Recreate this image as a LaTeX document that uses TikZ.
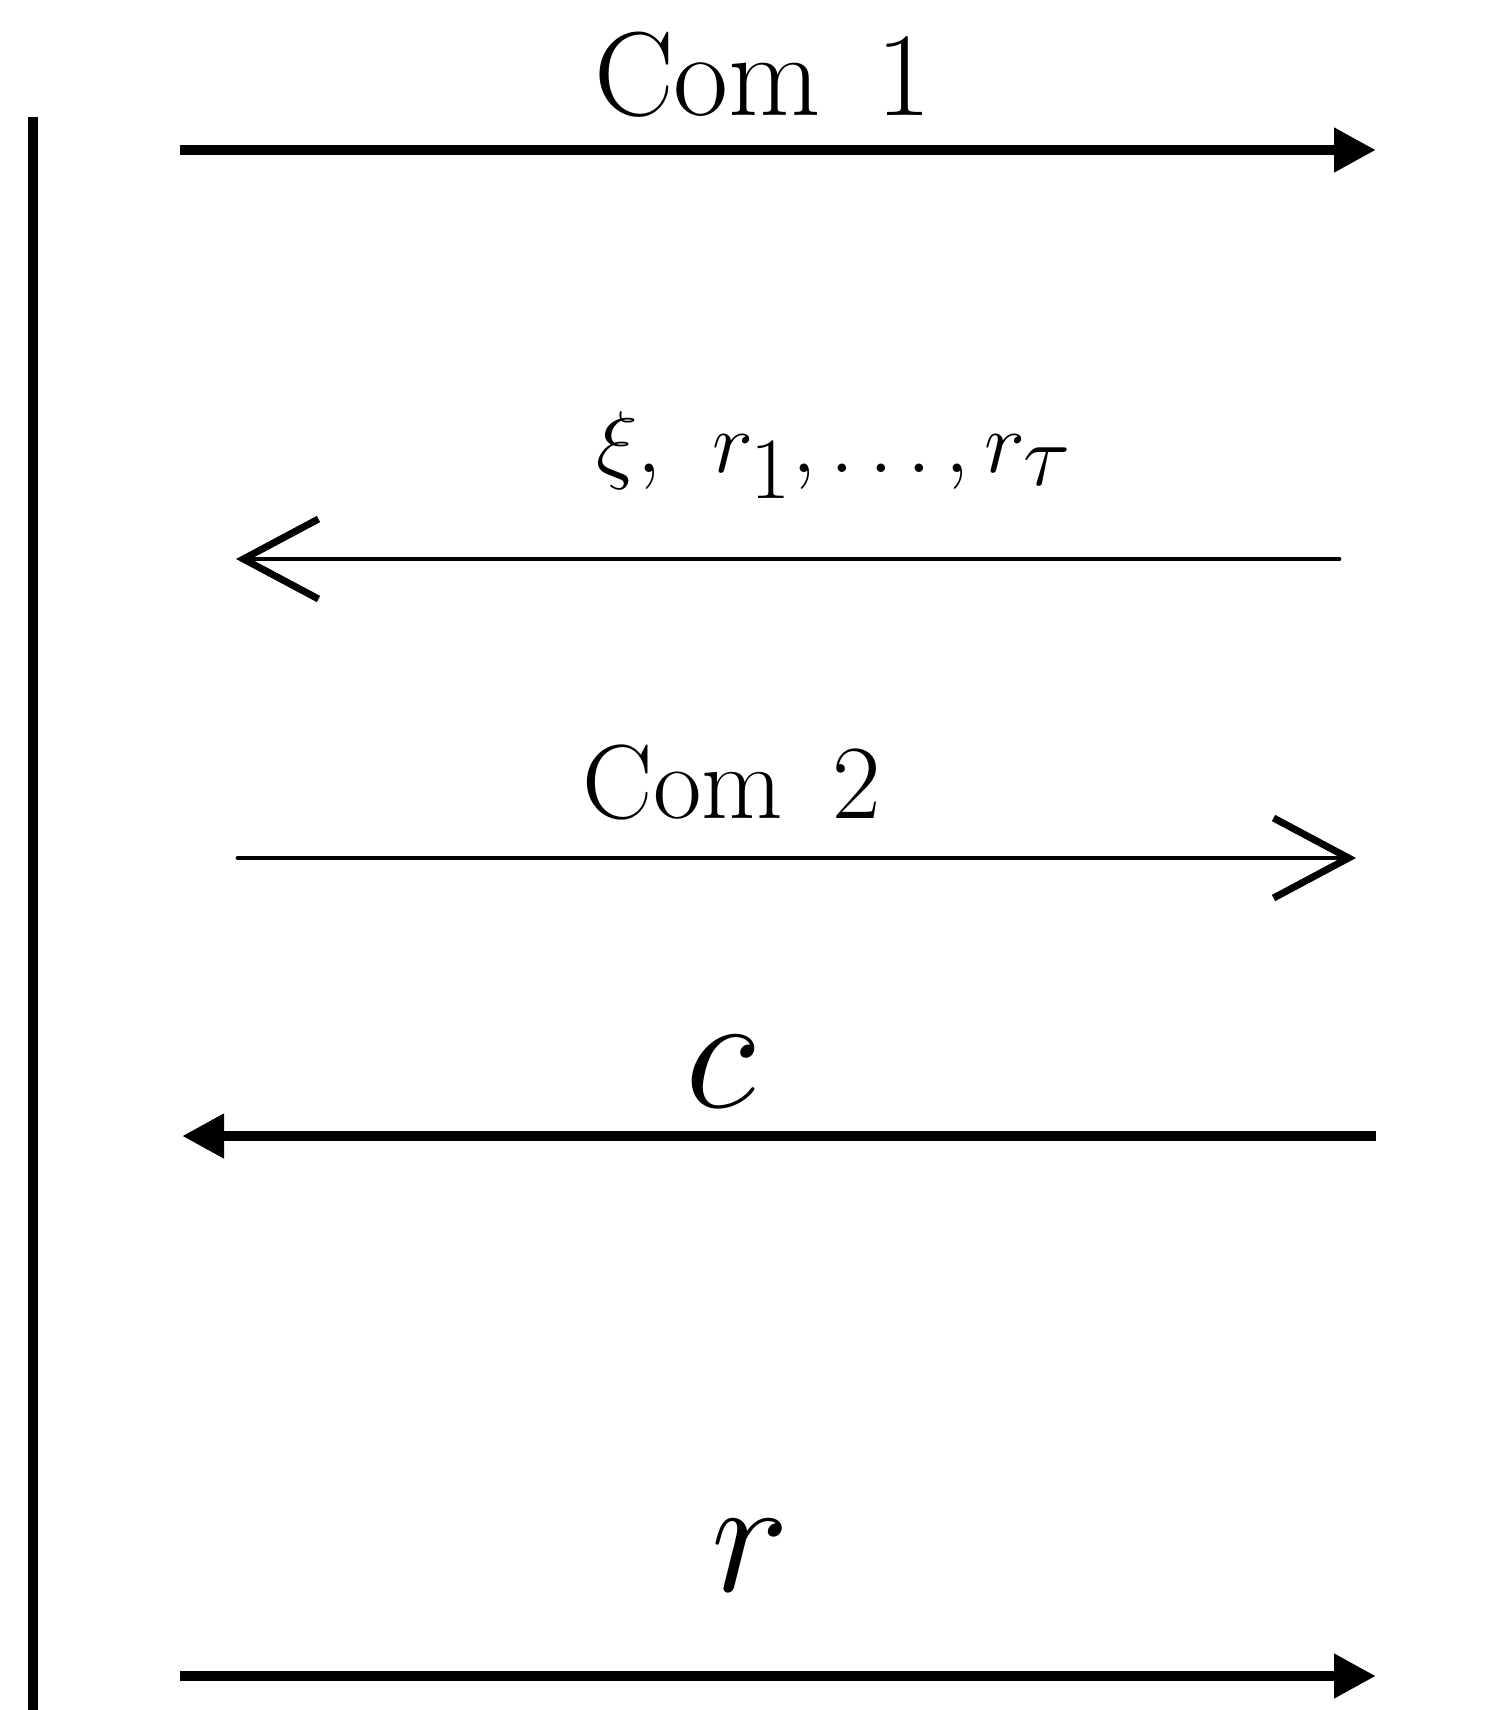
\documentclass[tikz,border=0pt]{standalone}
\usetikzlibrary{arrows.meta}
\tikzset{
    msg/.style={line width=3.1pt, -{Triangle[length=0.42cm,width=0.42cm]}},
    hand/.style={line width=1.4pt, line cap=round, -{Straight Barb[length=0.75cm,width=0.8cm,line width=2pt]}},
    lbl/.style={font=\fontsize{34}{40}\selectfont},
    biglbl/.style={lbl, scale=1.9}
}
\begin{document}
\begin{tikzpicture}[x=0.1mm,y=-0.1mm]
    \useasboundingbox (0,0) rectangle (1496,1710);
    % party line
    \coordinate (top) at (33,117);
    \coordinate (bot) at (33,1710);
    \draw[line width=3.1pt] (top) -- (bot);
    % message ends
    \coordinate (a1) at (180,150);  \coordinate (b1) at (1376,150);
    \coordinate (a2) at (1339,559); \coordinate (b2) at (236,559);
    \coordinate (a3) at (238,858);  \coordinate (b3) at (1356,858);
    \coordinate (a4) at (1376,1136);\coordinate (b4) at (182,1136);
    \coordinate (a5) at (180,1676); \coordinate (b5) at (1376,1676);
    \draw[msg] (a1) -- (b1);
    \draw[hand] (a2) -- (b2);
    \draw[hand] (a3) -- (b3);
    \draw[msg] (a4) -- (b4);
    \draw[msg] (a5) -- (b5);
    % labels
    \node[lbl] (com1) at (763,75) {Com\, 1};
    \node[lbl] (chal) at (834,455) {$\xi,\ r_1, \ldots, r_\tau$};
    \node[lbl, font=\fontsize{30}{36}\selectfont] (com2) at (732,782) {Com\, 2};
    \node[biglbl] (c) at (720,1072) {$c$};
    \node[biglbl] (r) at (750,1556) {$r$};
\end{tikzpicture}
\end{document}
